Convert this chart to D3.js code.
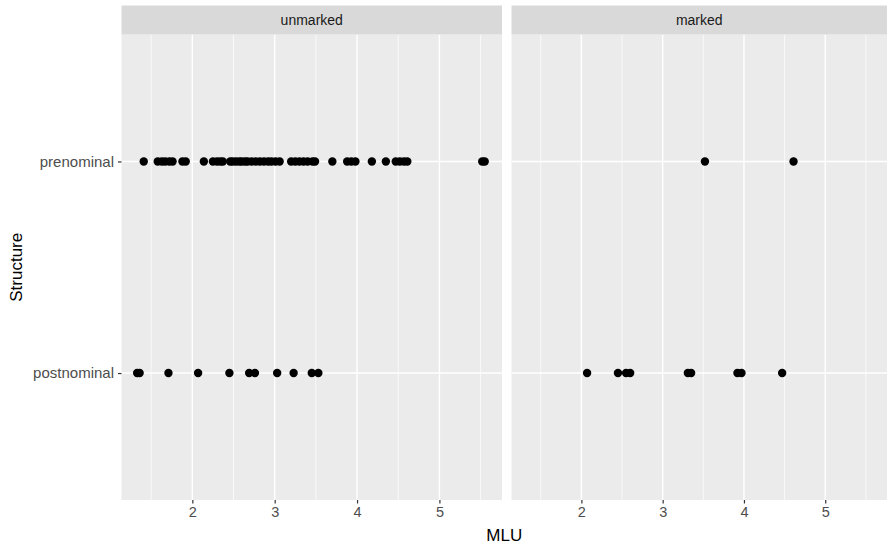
<!DOCTYPE html>
<html>
<head>
<meta charset="utf-8">
<script src="https://cdn.jsdelivr.net/npm/d3@7"></script>
<style>
  body { margin: 0; background: #fff; }
  svg text { font-family: "Liberation Sans", Arial, sans-serif; }
</style>
</head>
<body>
<div id="chart"></div>
<script>
var svgWidth = 887;
var svgHeight = 547;

// facets and categories
var panels = ["unmarked", "marked"];
var structures = ["postnominal", "prenominal"];
var xTicks = [2, 3, 4, 5];
var xMinor = [1.5, 2.5, 3.5, 4.5, 5.5];

// MLU values
var unmarkedPre = [1.41, 1.58, 1.63, 1.67, 1.72, 1.76, 1.88, 1.92, 2.14, 2.25, 2.30, 2.34, 2.37,
  2.46, 2.49, 2.53, 2.57, 2.60, 2.64, 2.67, 2.72, 2.77, 2.82, 2.87, 2.92, 2.96, 3.01, 3.06,
  3.20, 3.25, 3.30, 3.35, 3.40, 3.46, 3.49, 3.70, 3.88, 3.93, 3.98, 4.18, 4.35, 4.47, 4.52,
  4.57, 4.61, 5.52, 5.55];
var unmarkedPost = [1.33, 1.36, 1.71, 2.07, 2.45, 2.69, 2.76, 3.03, 3.23, 3.45, 3.53];
var markedPre = [3.52, 4.61];
var markedPost = [2.07, 2.45, 2.55, 2.60, 3.31, 3.35, 3.92, 3.97, 4.47];

var series = {
  unmarked: { prenominal: unmarkedPre, postnominal: unmarkedPost },
  marked: { prenominal: markedPre, postnominal: markedPost }
};

var panelTop = 34.5;
var panelBottom = 500;
var stripTop = 5.5;
var panelX = [[121.5, 502], [511.5, 887]];

var svg = d3.select("#chart")
  .append("svg")
  .attr("width", svgWidth)
  .attr("height", svgHeight);

var yScale = d3.scalePoint()
  .domain(structures)
  .range([panelBottom, panelTop])
  .padding(0.6);

panels.forEach(function(name, i) {
  var x0 = panelX[i][0], x1 = panelX[i][1];
  var xScale = d3.scaleLinear()
    .domain([1.14, 5.76])
    .range([x0, x1]);

  var g = svg.append("g");

  // panel background
  g.append("rect")
    .attr("x", x0).attr("y", panelTop)
    .attr("width", x1 - x0).attr("height", panelBottom - panelTop)
    .attr("fill", "#ebebeb");

  // minor grid
  g.selectAll(".minor")
    .data(xMinor)
    .enter().append("line")
    .attr("x1", function(d) { return xScale(d); })
    .attr("x2", function(d) { return xScale(d); })
    .attr("y1", panelTop).attr("y2", panelBottom)
    .attr("stroke", "#fff").attr("stroke-width", 0.7);

  // major grid
  g.selectAll(".majorx")
    .data(xTicks)
    .enter().append("line")
    .attr("x1", function(d) { return xScale(d); })
    .attr("x2", function(d) { return xScale(d); })
    .attr("y1", panelTop).attr("y2", panelBottom)
    .attr("stroke", "#fff").attr("stroke-width", 1.4);

  g.selectAll(".majory")
    .data(structures)
    .enter().append("line")
    .attr("x1", x0).attr("x2", x1)
    .attr("y1", function(d) { return yScale(d); })
    .attr("y2", function(d) { return yScale(d); })
    .attr("stroke", "#fff").attr("stroke-width", 1.4);

  // strip
  g.append("rect")
    .attr("x", x0).attr("y", stripTop)
    .attr("width", x1 - x0).attr("height", panelTop - stripTop)
    .attr("fill", "#d9d9d9");
  g.append("text")
    .attr("x", (x0 + x1) / 2)
    .attr("y", (stripTop + panelTop) / 2 + 5)
    .attr("text-anchor", "middle")
    .attr("font-size", 14)
    .attr("fill", "#1a1a1a")
    .text(name);

  // points
  structures.forEach(function(s) {
    g.selectAll(null)
      .data(series[name][s])
      .enter().append("circle")
      .attr("cx", function(d) { return xScale(d); })
      .attr("cy", yScale(s))
      .attr("r", 4.2)
      .attr("fill", "#000");
  });

  // x axis
  var xAxis = g.append("g")
    .attr("transform", "translate(0," + panelBottom + ")")
    .call(d3.axisBottom(xScale).tickValues(xTicks).tickSize(3.5).tickPadding(3).tickFormat(d3.format("d")));
  xAxis.select(".domain").remove();
  xAxis.selectAll("line").attr("stroke", "#333").attr("stroke-width", 1.2);
  xAxis.selectAll("text").attr("font-size", 14.5).attr("fill", "#4d4d4d");
});

// y axis
var yAxis = svg.append("g")
  .attr("transform", "translate(" + panelX[0][0] + ",0)")
  .call(d3.axisLeft(yScale).tickSize(3.5).tickPadding(4));
yAxis.select(".domain").remove();
yAxis.selectAll("line").attr("stroke", "#333").attr("stroke-width", 1.2);
yAxis.selectAll("text").attr("font-size", 15).attr("fill", "#4d4d4d");

// axis titles
svg.append("text")
  .attr("x", (panelX[0][0] + panelX[1][1]) / 2)
  .attr("y", 541)
  .attr("text-anchor", "middle")
  .attr("font-size", 17)
  .attr("fill", "#000")
  .text("MLU");

svg.append("text")
  .attr("transform", "translate(22," + (panelTop + panelBottom) / 2 + ") rotate(-90)")
  .attr("text-anchor", "middle")
  .attr("font-size", 17)
  .attr("fill", "#000")
  .text("Structure");
</script>
</body>
</html>
